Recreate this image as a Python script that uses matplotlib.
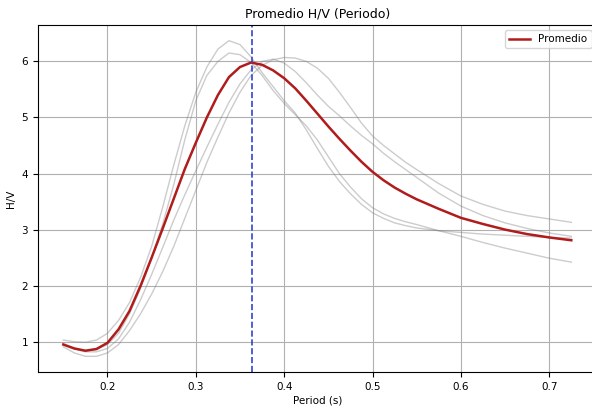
import numpy as np
import matplotlib
matplotlib.use('Agg')
import matplotlib.pyplot as plt

# periods (s)
periods = [0.15, 0.1625, 0.175, 0.1875, 0.2, 0.2125, 0.225, 0.2375, 0.25, 0.2625,
           0.275, 0.2875, 0.3, 0.3125, 0.325, 0.3375, 0.35, 0.3625, 0.375, 0.3875,
           0.4, 0.4125, 0.425, 0.4375, 0.45, 0.4625, 0.475, 0.4875, 0.5,
           0.5125, 0.525, 0.5375, 0.55,
           0.575, 0.6, 0.625, 0.65, 0.675, 0.7, 0.725]

# individual H/V curves (grey)
hv_1 = [1.03, 1.00, 0.99, 1.03, 1.15, 1.38, 1.70, 2.15, 2.70, 3.40,
        4.15, 4.85, 5.45, 5.90, 6.22, 6.37, 6.30, 6.08, 5.80, 5.55,
        5.30, 5.08, 4.78, 4.45, 4.13, 3.86, 3.64, 3.45, 3.30,
        3.20, 3.12, 3.07, 3.03,
        2.98, 2.95, 2.92, 2.90, 2.88, 2.86, 2.85]
hv_2 = [0.97, 0.88, 0.84, 0.86, 0.95, 1.15, 1.50, 1.95, 2.50, 3.10,
        3.80, 4.60, 5.30, 5.75, 6.00, 6.15, 6.12, 5.98, 5.75, 5.48,
        5.25, 5.05, 4.85, 4.60, 4.30, 4.00, 3.76, 3.55, 3.39,
        3.28, 3.20, 3.14, 3.09,
        2.98, 2.88, 2.77, 2.67, 2.58, 2.49, 2.42]
hv_3 = [0.91, 0.80, 0.74, 0.74, 0.80, 0.95, 1.20, 1.50, 1.85, 2.25,
        2.70, 3.20, 3.70, 4.20, 4.65, 5.08, 5.45, 5.75, 5.93, 6.03,
        6.07, 6.06, 6.00, 5.88, 5.70, 5.45, 5.18, 4.90, 4.67,
        4.50, 4.35, 4.20, 4.07,
        3.82, 3.60, 3.45, 3.33, 3.25, 3.19, 3.13]
hv_4 = [0.95, 0.87, 0.82, 0.82, 0.88, 1.05, 1.35, 1.75, 2.20, 2.68,
        3.17, 3.62, 4.05, 4.47, 4.88, 5.27, 5.60, 5.85, 6.00, 6.04,
        5.97, 5.82, 5.62, 5.40, 5.20, 5.03, 4.85, 4.68, 4.53,
        4.36, 4.21, 4.07, 3.93,
        3.65, 3.42, 3.25, 3.12, 3.02, 2.94, 2.88]

# average curve (red)
hv_mean = [0.95, 0.88, 0.84, 0.87, 0.98, 1.22, 1.55, 2.00, 2.50, 3.02,
           3.55, 4.08, 4.55, 5.00, 5.40, 5.72, 5.90, 5.98, 5.94, 5.84,
           5.70, 5.52, 5.30, 5.07, 4.84, 4.62, 4.41, 4.21, 4.03,
           3.88, 3.75, 3.64, 3.54,
           3.37, 3.21, 3.10, 3.00, 2.92, 2.86, 2.81]

peak_period = 0.364

fig = plt.figure(figsize=(5.92, 4.08), dpi=100)
ax = fig.add_axes([0.064, 0.088, 0.944, 0.851])

for hv in [hv_1, hv_2, hv_3, hv_4]:
    ax.plot(periods, hv, color='gray', alpha=0.4, linewidth=1.0)
ax.plot(periods, hv_mean, color='#b01c1c', linewidth=1.8, label='Promedio')
ax.axvline(peak_period, color='#3344cc', linestyle='--', linewidth=1.2)

ax.set_xticks([0.2, 0.3, 0.4, 0.5, 0.6, 0.7])
ax.set_yticks([1, 2, 3, 4, 5, 6])
ax.tick_params(labelsize=7.5)
ax.grid(True, color='#b0b0b0', linewidth=0.8)
ax.set_xlabel('Period (s)', fontsize=7.5, labelpad=3)
ax.set_ylabel('H/V', fontsize=7.5)
ax.set_title('Promedio H/V (Periodo)', fontsize=9, pad=5)
ax.legend(loc='upper right', fontsize=7.5)

fig.savefig('out.png', dpi=100)
